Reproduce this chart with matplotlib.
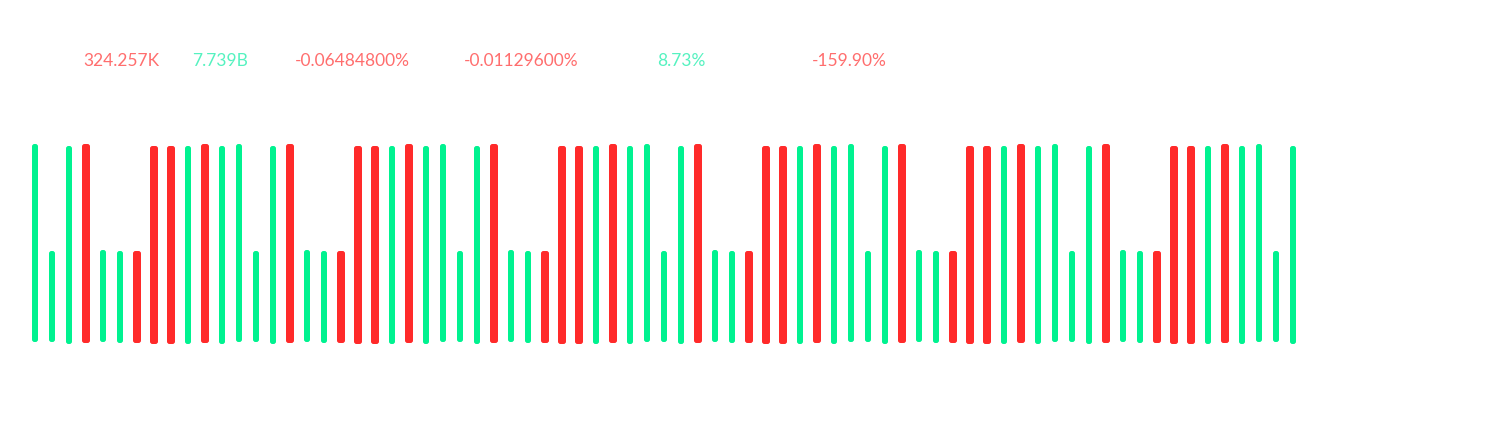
import matplotlib.pyplot as plt
from matplotlib.patches import FancyBboxPatch

# candle-like bars: low / high, colour (g = up, r = down)
lows = [2,
        2, 0, 1, 2, 1, 1, 0, 0, 0, 1, 0, 2,
        2, 0, 1, 2, 1, 1, 0, 0, 0, 1, 0, 2,
        2, 0, 1, 2, 1, 1, 0, 0, 0, 1, 0, 2,
        2, 0, 1, 2, 1, 1, 0, 0, 0, 1, 0, 2,
        2, 0, 1, 2, 1, 1, 0, 0, 0, 1, 0, 2,
        2, 0, 1, 2, 1, 1, 0, 0, 0, 1, 0, 2,
        2, 0]
highs = [200,
         93, 198, 200, 94, 93, 93, 198, 198, 198, 200, 198, 200,
         93, 198, 200, 94, 93, 93, 198, 198, 198, 200, 198, 200,
         93, 198, 200, 94, 93, 93, 198, 198, 198, 200, 198, 200,
         93, 198, 200, 94, 93, 93, 198, 198, 198, 200, 198, 200,
         93, 198, 200, 94, 93, 93, 198, 198, 198, 200, 198, 200,
         93, 198, 200, 94, 93, 93, 198, 198, 198, 200, 198, 200,
         93, 198]
dirs = ["g",
        "g", "g", "r", "g", "g", "r", "r", "r", "g", "r", "g", "g",
        "g", "g", "r", "g", "g", "r", "r", "r", "g", "r", "g", "g",
        "g", "g", "r", "g", "g", "r", "r", "r", "g", "r", "g", "g",
        "g", "g", "r", "g", "g", "r", "r", "r", "g", "r", "g", "g",
        "g", "g", "r", "g", "g", "r", "r", "r", "g", "r", "g", "g",
        "g", "g", "r", "g", "g", "r", "r", "r", "g", "r", "g", "g",
        "g", "g"]

stats = ["324.257K", "7.739B", "-0.06484800%", "-0.01129600%", "8.73%", "-159.90%"]
stat_up = [False, True, False, False, True, False]
stat_pos = [5.06, 10.88, 18.65, 28.59, 38.0, 47.88]

bar_col = {"g": "#00f290", "r": "#ff2a2a"}
bar_w = {"g": 6 / 17, "r": 8 / 17}

fig = plt.figure(figsize=(15.12, 4.33), dpi=100)
ax = fig.add_axes([0, 0, 1, 1])
ax.set_xlim(-35 / 17, (1512 - 35) / 17)
ax.set_ylim(-89, 344)
ax.axis("off")

for i, (lo, hi, d) in enumerate(zip(lows, highs, dirs)):
    w = bar_w[d]
    p = FancyBboxPatch((i - w / 2, lo), w, hi - lo,
                       boxstyle="round,pad=0,rounding_size=%f" % (2.5 / 17),
                       mutation_aspect=17, fc=bar_col[d], ec="none")
    ax.add_patch(p)

for s, up, x in zip(stats, stat_up, stat_pos):
    ax.text(x, 283, s, ha="center", va="center", fontsize=12.5,
            family="Lato", color="#55f2c0" if up else "#ff6e6e")

fig.savefig("out.png", dpi=100)
